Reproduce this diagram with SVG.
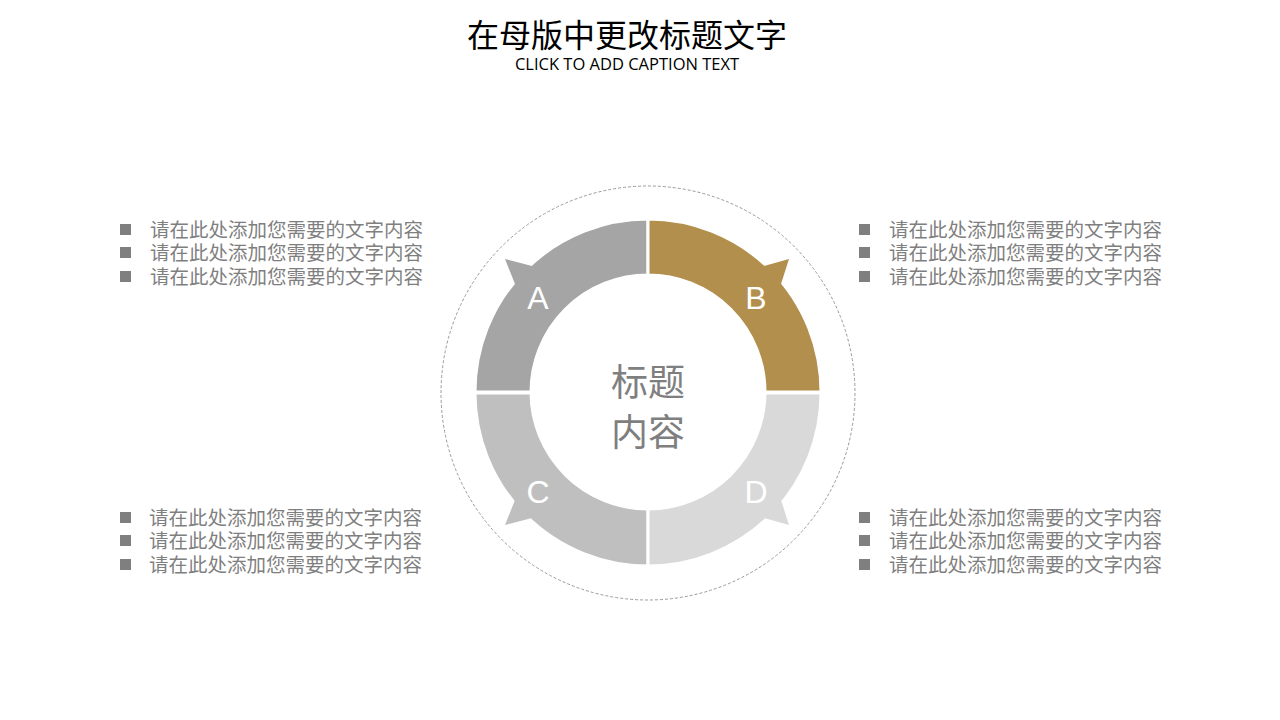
<svg xmlns="http://www.w3.org/2000/svg" width="1280" height="720" viewBox="0 0 1280 720">
<style>
.t{font-family:"Liberation Sans","Noto Sans CJK SC",sans-serif;fill:#7f7f7f;font-size:19.5px}
.sq{fill:#7f7f7f}
.seg{stroke:#fff;stroke-width:3}
.lt{font-family:"Liberation Sans",sans-serif;fill:#fff;font-size:32px;text-anchor:middle}
</style>
<rect width="1280" height="720" fill="#fff"/>
<g id="title">
<text x="627" y="47" text-anchor="middle" font-family="Noto Sans CJK SC,sans-serif" font-size="32" fill="#000">在母版中更改标题文字</text>
<text x="627" y="70" text-anchor="middle" font-family="Open Sans,sans-serif" font-size="16.5" fill="#000">CLICK TO ADD CAPTION TEXT</text>
</g>
<circle cx="648" cy="393" r="207" fill="none" stroke="#999" stroke-dasharray="3,2"/>
<g id="A">
<path class="seg" fill="#a5a5a5" d="M475,392 A173,173 0 0 1 648,219 L648,275 A117,117 0 0 0 531,392 Z"/>
<path fill="#a5a5a5" d="M515,284 L505,259 L532,266 L524,280 Z"/>
<text class="lt" x="538" y="309">A</text>
</g>
<g id="B">
<path class="seg" fill="#b38f4e" d="M648,219 A173,173 0 0 1 821,392 L765,392 A117,117 0 0 0 648,275 Z"/>
<path fill="#b38f4e" d="M764,266 L789,259 L781,284 L772,280 Z"/>
<text class="lt" x="756" y="309">B</text>
</g>
<g id="C">
<path class="seg" fill="#bfbfbf" d="M475,393 A173,173 0 0 0 648,566 L648,509 A117,117 0 0 1 531,393 Z"/>
<path fill="#bfbfbf" d="M515,500 L505,525 L532,518 L524,504 Z"/>
<text class="lt" x="538" y="503">C</text>
</g>
<g id="D">
<path class="seg" fill="#d9d9d9" d="M821,393 A173,173 0 0 1 648,566 L648,509 A117,117 0 0 0 765,393 Z"/>
<path fill="#d9d9d9" d="M764,518 L789,525 L781,500 L772,504 Z"/>
<text class="lt" x="756" y="503">D</text>
</g>
<g id="center">
<text x="648" y="396" text-anchor="middle" font-family="Noto Sans CJK SC,sans-serif" font-size="37" fill="#7f7f7f">标题</text>
<text x="648" y="446" text-anchor="middle" font-family="Noto Sans CJK SC,sans-serif" font-size="37" fill="#7f7f7f">内容</text>
</g>
<g id="lists">
<rect class="sq" x="120" y="224" width="11" height="11"/><text class="t" x="150" y="237">请在此处添加您需要的文字内容</text>
<rect class="sq" x="120" y="247" width="11" height="11"/><text class="t" x="150" y="260">请在此处添加您需要的文字内容</text>
<rect class="sq" x="120" y="271" width="11" height="11"/><text class="t" x="150" y="284">请在此处添加您需要的文字内容</text>
<rect class="sq" x="859" y="224" width="11" height="11"/><text class="t" x="889" y="237">请在此处添加您需要的文字内容</text>
<rect class="sq" x="859" y="247" width="11" height="11"/><text class="t" x="889" y="260">请在此处添加您需要的文字内容</text>
<rect class="sq" x="859" y="271" width="11" height="11"/><text class="t" x="889" y="284">请在此处添加您需要的文字内容</text>
<rect class="sq" x="120" y="512" width="11" height="11"/><text class="t" x="149" y="525">请在此处添加您需要的文字内容</text>
<rect class="sq" x="120" y="535" width="11" height="11"/><text class="t" x="149" y="548">请在此处添加您需要的文字内容</text>
<rect class="sq" x="120" y="559" width="11" height="11"/><text class="t" x="149" y="572">请在此处添加您需要的文字内容</text>
<rect class="sq" x="859" y="512" width="11" height="11"/><text class="t" x="889" y="525">请在此处添加您需要的文字内容</text>
<rect class="sq" x="859" y="535" width="11" height="11"/><text class="t" x="889" y="548">请在此处添加您需要的文字内容</text>
<rect class="sq" x="859" y="559" width="11" height="11"/><text class="t" x="889" y="572">请在此处添加您需要的文字内容</text>
</g>
</svg>
